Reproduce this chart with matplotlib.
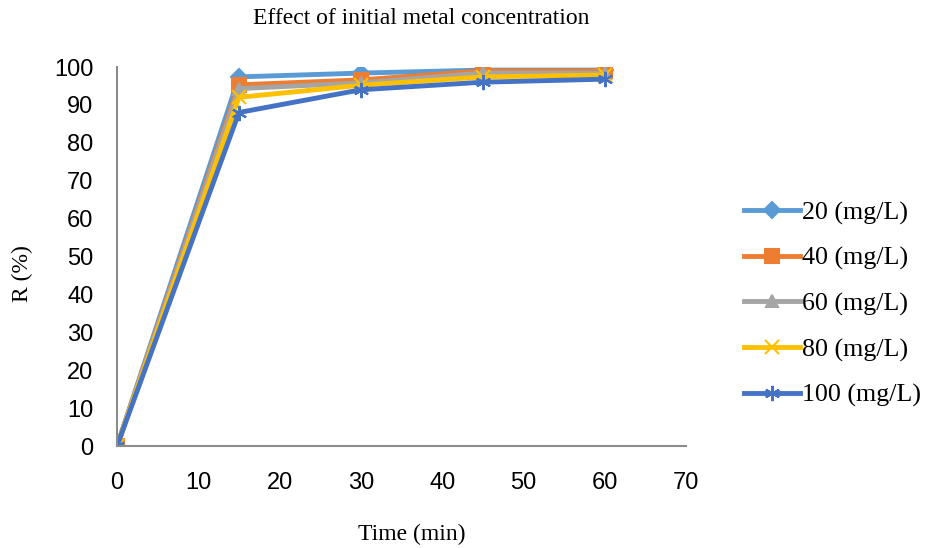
import numpy as np
import matplotlib as mpl
mpl.use("Agg")
import matplotlib.pyplot as plt

# Zeit in min
time = [0, 15, 30, 45, 60]
labels = ["20 (mg/L)", "40 (mg/L)", "60 (mg/L)", "80 (mg/L)", "100 (mg/L)"]
r20 = [0, 97.4, 98.4, 99.2, 99.2]
r40 = [0, 95.3, 96.6, 99.0, 99.0]
r60 = [0, 94.3, 95.8, 98.4, 98.4]
r80 = [0, 92.0, 95.2, 97.4, 97.9]
r100 = [0, 88.0, 94.0, 96.0, 96.8]

farben = ["#5B9BD5", "#ED7D31", "#A5A5A5", "#FFC000", "#4472C4"]
marker = ["D", "s", "^", "x", (6, 2, 0)]
msize = [8, 10, 9, 10, 11]

fig = plt.figure(figsize=(9.26, 5.48), dpi=100)
ax = fig.add_axes([0.1264, 0.1861, 0.6144, 0.6916])

for y, lab, c, m, s in zip([r20, r40, r60, r80, r100], labels, farben, marker, msize):
    ax.plot(time, y, color=c, marker=m, markersize=s, linewidth=3.5,
            markeredgewidth=1.5, markeredgecolor=c, label=lab)

ax.set_xlim(0, 70)
ax.set_ylim(0, 100)
ax.set_xticks(np.arange(0, 71, 10))
ax.set_yticks(np.arange(0, 101, 10))
for sp in ["top", "right"]:
    ax.spines[sp].set_visible(False)
for sp in ["left", "bottom"]:
    ax.spines[sp].set_color("#8C8C8C")
    ax.spines[sp].set_linewidth(1.5)
ax.tick_params(length=0, labelsize=17)
ax.tick_params(axis="x", pad=19)
ax.tick_params(axis="y", pad=17)
for t in ax.get_xticklabels() + ax.get_yticklabels():
    t.set_fontfamily("Liberation Sans")

fig.text(0.455, 0.967, "Effect of initial metal concentration", ha="center", va="center",
         family="Liberation Serif", fontsize=17)
fig.text(0.445, 0.024, "Time (min)", ha="center", va="center",
         family="Liberation Serif", fontsize=17)
fig.text(0.024, 0.50, "R (%)", ha="center", va="center", rotation=90,
         family="Liberation Serif", fontsize=17)

ax.legend(loc="center left", bbox_to_anchor=(0.792, 0.445), bbox_transform=fig.transFigure,
          frameon=False, prop={"family": "Liberation Serif", "size": 18.7}, handlelength=2.15,
          handletextpad=0.1, labelspacing=0.85, borderaxespad=0)

plt.savefig("out.png", dpi=100)
plt.close()
